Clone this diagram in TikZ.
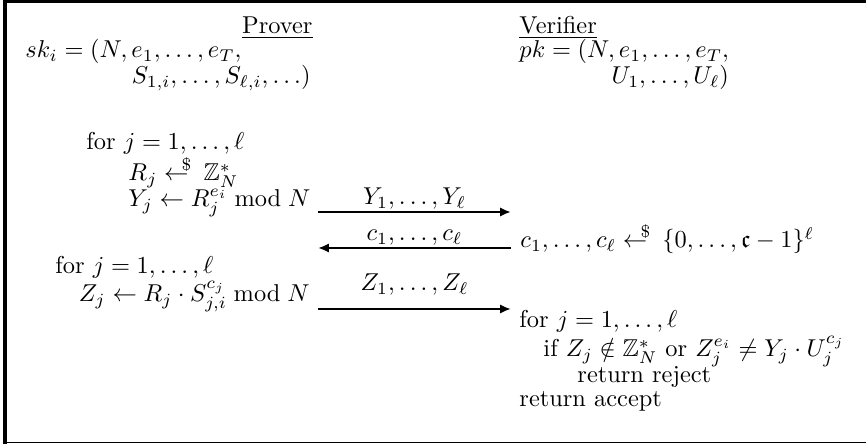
\documentclass[tikz,border=0pt]{standalone}
\usepackage{amsmath}
\usepackage{amssymb}
\usetikzlibrary{arrows.meta}
\tikzset{
	txt/.style={anchor=base west, inner sep=0pt},
	txtr/.style={anchor=base east, inner sep=0pt},
	msg/.style={-{Latex[length=4.5pt, width=3.8pt]}, line width=1.1pt},
	msglbl/.style={anchor=base, inner sep=0pt, yshift=3pt},
	rule/.style={line width=1.5pt},
}
\newcommand{\sampleof}{\mathrel{\leftarrow\mkern-10mu\raisebox{4.5pt}{$\scriptstyle\$$}\mkern4mu}}

\begin{document}
\begin{tikzpicture}[x=0.41pt, y=-0.41pt]
	\useasboundingbox (0,0) rectangle (866,444);
	% frame
	\draw[rule] (5,444) -- (5,1.5) -- (866,1.5);
	\draw[line width=0.6pt] (5,442.5) -- (866,442.5);
	% headers and keys
	\node[txtr] (prover) at (313,34) {\underline{Prover}};
	\node[txt] (verifier) at (519,34) {\underline{Verifier}};
	\node[txt] (sk) at (25,58) {$sk_i = (N, e_1, \ldots, e_T,$};
	\node[txtr] (sk2) at (311,84) {$S_{1,i}, \ldots, S_{\ell,i}, \ldots)$};
	\node[txt] (pk) at (519,58) {$pk = (N, e_1, \ldots, e_T,$};
	\path (pk.base east) ++(0,26) node[txtr] (pk2) {$U_1, \ldots, U_\ell)$};
	% prover commits
	\node[txt] (for1) at (86,150) {for $j = 1, \ldots, \ell$};
	\node[txt] (rj) at (128,181) {$R_j \sampleof \mathbb{Z}_N^*$};
	\node[txt] (yj) at (128,207) {$Y_j \leftarrow R_j^{e_i} \bmod N$};
	% verifier challenge
	\node[txt] (cj) at (520,248) {$c_1, \ldots, c_\ell \sampleof \{0, \ldots, \mathfrak{c}-1\}^\ell$};
	% prover responds
	\node[txt] (for2) at (55,274) {for $j = 1, \ldots, \ell$};
	\node[txtr] (zj) at (310,302) {$Z_j \leftarrow R_j \cdot S_{j,i}^{c_j} \bmod N$};
	% verifier checks
	\node[txt] (for3) at (519,328) {for $j = 1, \ldots, \ell$};
	\node[txt] (chk) at (543,357) {if $Z_j \notin \mathbb{Z}_N^*$ or $Z_j^{e_i} \neq Y_j \cdot U_j^{c_j}$};
	\node[txt] (rej) at (577,383) {return reject};
	\node[txt] (acc) at (519,407) {return accept};
	% messages
	\coordinate (m1a) at (318,212);
	\coordinate (m1b) at (511,212);
	\coordinate (m2a) at (511,248);
	\coordinate (m2b) at (318,248);
	\coordinate (m3a) at (318,309);
	\coordinate (m3b) at (511,309);
	\draw[msg] (m1a) -- node[msglbl] {$Y_1, \ldots, Y_\ell$} (m1b);
	\draw[msg] (m2a) -- node[msglbl] {$c_1, \ldots, c_\ell$} (m2b);
	\draw[msg] (m3a) -- node[msglbl, yshift=4.5pt] {$Z_1, \ldots, Z_\ell$} (m3b);
\end{tikzpicture}
\end{document}
